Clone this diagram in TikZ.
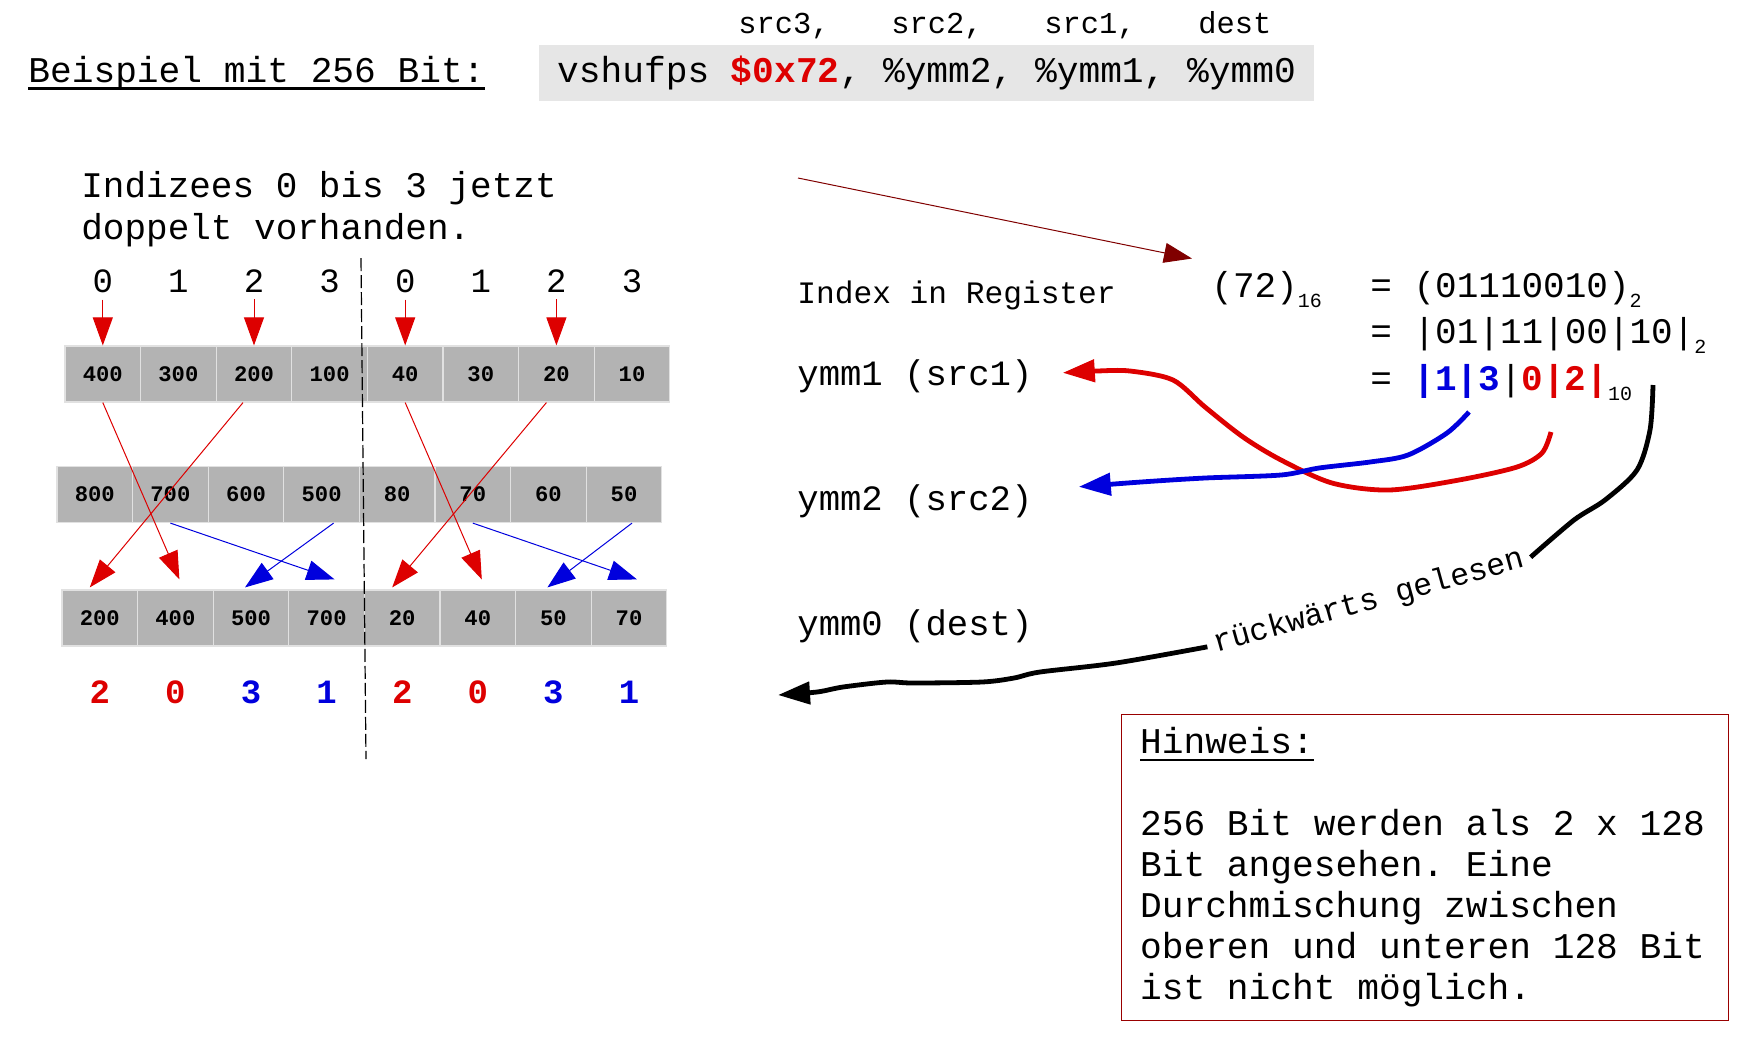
\documentclass[tikz,border=0pt]{standalone}
\usepackage{fontspec}
\setmainfont{Liberation Mono}[WordSpace={1,0,0}]
\usetikzlibrary{arrows.meta}

\definecolor{rot}{RGB}{221,0,0}
\definecolor{blau}{RGB}{0,0,221}
\definecolor{dunkelrot}{RGB}{128,0,0}
\definecolor{rahmenrot}{RGB}{153,0,0}
\definecolor{zellgrau}{RGB}{179,179,179}
\definecolor{zellrand}{RGB}{225,225,225}
\definecolor{codegrau}{RGB}{230,230,230}

\newcommand{\groesse}[1]{\fontsize{#1}{#1}\selectfont}
\newcommand{\tief}[1]{\raisebox{-5pt}{\groesse{10}#1}}
\newcommand{\strich}[1]{\sbox0{#1}\rlap{\rule[-3.8pt]{\wd0}{1.2pt}}\usebox0}

\begin{document}
\begin{tikzpicture}[x=0.5pt,y=-0.5pt,
    zelle/.style={draw=zellrand, fill=zellgrau, line width=0.6pt,
      minimum width=37.8pt, minimum height=28pt, inner sep=0pt,
      font=\groesse{11.1}\bfseries},
    duenn/.style={line width=0.5pt, -{Triangle[length=14pt,width=10pt]}},
    dick/.style={line width=2.4pt, -{Triangle[length=16pt,width=11pt]}},
    trenn/.style={line width=0.6pt, dash pattern=on 6.5pt off 2pt}]
  \useasboundingbox (0,0) rectangle (1757,1046);

  % Ueberschrift und Befehl mit den Operanden darueber.
  \node[anchor=base west, inner sep=0pt, font=\groesse{18.1}] (titel) at (28,82)
    {\strich{Beispiel mit 256 Bit:}};
  \node[fill=codegrau, inner sep=0pt, minimum width=387.5pt, minimum height=28pt,
    font=\groesse{18.1}] (befehl) at (926.5,73)
    {vshufps {\color{rot}\bfseries\$0x72}, \%ymm2, \%ymm1, \%ymm0};
  \foreach \t/\x [count=\i] in {{src3,}/738,{src2,}/891,{src1,}/1044,dest/1198}
    \node[anchor=base west, inner sep=0pt, font=\groesse{15.2}] (arg\i) at (\x,33) {\t};

  \node[anchor=base west, align=left, inner sep=0pt, font=\fontsize{18}{21}\selectfont]
    (indizes) at (81,239) {Indizees 0 bis 3 jetzt\\doppelt vorhanden.};

  % Die drei Register: src1 oben, src2 in der Mitte, dest unten.
  \foreach \w [count=\i] in {400,300,200,100,40,30,20,10}
    \node[zelle] (a\i) at (27.2+75.6*\i,374) {\w};
  \foreach \w [count=\i] in {800,700,600,500,80,70,60,50}
    \node[zelle] (b\i) at (19.2+75.6*\i,494.5) {\w};
  \foreach \w [count=\i] in {200,400,500,700,20,40,50,70}
    \node[zelle] (c\i) at (24.2+75.6*\i,618) {\w};

  % Indizes je 128-Bit-Haelfte.
  \foreach \d [count=\i] in {0,1,2,3,0,1,2,3}
    \node[font=\groesse{17}] (i\i) at (27.2+75.6*\i,281) {\d};
  \foreach \i in {1,3,5,7}
    \draw[duenn, rot] (i\i.south) -- (a\i.north);

  % Auswahl aus src1 (rot) und src2 (blau).
  \draw[duenn, rot] (a1.south) -- ([xshift=2pt,yshift=5pt]c2.north);
  \draw[duenn, rot] ([xshift=-5.5pt]a3.south) -- ([xshift=-5pt,yshift=1pt]c1.north);
  \draw[duenn, rot] (a5.south) -- ([xshift=2pt,yshift=5pt]c6.north);
  \draw[duenn, rot] ([xshift=-5pt]a7.south) -- ([xshift=-5pt,yshift=1pt]c5.north);
  \draw[duenn, blau] (b2.south) -- ([xshift=4pt,yshift=5pt]c4.north);
  \draw[duenn, blau] ([xshift=6pt]b4.south) -- ([xshift=-3pt,yshift=1pt]c3.north);
  \draw[duenn, blau] (b6.south) -- ([xshift=4pt,yshift=5pt]c8.north);
  \draw[duenn, blau] ([xshift=4pt]b8.south) -- ([xshift=-3pt,yshift=1pt]c7.north);

  % Verwendete Indizes unter dest.
  \foreach \d/\f [count=\i] in {2/rot,0/rot,3/blau,1/blau,2/rot,0/rot,3/blau,1/blau}
    \node[font=\groesse{17}\bfseries, text=\f] (e\i) at (24.2+75.6*\i,692) {\d};

  % Grenze zwischen oberen und unteren 128 Bit.
  \draw[trenn] (361,258) -- (366,759);

  % Zerlegung des Immediate-Werts.
  \coordinate (hexquelle) at (798,178);
  \node[anchor=base west, inner sep=0pt, font=\groesse{15.6}] (regindex) at (797,303)
    {Index in Register};
  \node[anchor=base west, inner sep=0pt, font=\groesse{18}] (hex) at (1211,297)
    {(72)\tief{16}};
  \draw[duenn, dunkelrot] (hexquelle) -- ([xshift=-9.5pt,yshift=6pt]hex.north west);
  \node[anchor=base west, inner sep=0pt, font=\groesse{18}] (bin) at (1370,297)
    {= (01110010)\tief{2}};
  \node[anchor=base west, inner sep=0pt, font=\groesse{18}] (bin2) at (1370,343)
    {= |01|11|00|10|\tief{2}};
  \node[anchor=base west, inner sep=0pt, font=\groesse{18}] (dez) at (1370,390)
    {= {\color{blau}\bfseries|1|3}|{\color{rot}\bfseries0|2|}\tief{10}};

  \node[anchor=base west, inner sep=0pt, font=\groesse{17.8}] (ymm1) at (797,385) {ymm1 (src1)};
  \node[anchor=base west, inner sep=0pt, font=\groesse{17.8}] (ymm2) at (797,510) {ymm2 (src2)};
  \node[anchor=base west, inner sep=0pt, font=\groesse{17.8}] (ymm0) at (797,635) {ymm0 (dest)};

  % Dicke Pfeile zu den Registern.
  \coordinate (rot0) at (1551,432);
  \draw[dick, rot] plot[smooth] coordinates {(rot0) (1542,453) (1517,467) (1459,480)
    (1389,490) (1332,483) (1281,460) (1243,437) (1205,407) (1173,380) (1130,371)
    (1097,371) ([xshift=15pt,yshift=1.5pt]ymm1.east)};
  \coordinate (blau0) at (1469,412);
  \draw[dick, blau] plot[smooth] coordinates {(blau0) (1447,433) (1408,455) (1370,462)
    (1319,468) (1281,475) (1205,478) (1141,482) ([xshift=23pt,yshift=7pt]ymm2.east)};

  \coordinate (sw0) at (1653,385);
  \coordinate (sw1) at (778,695);
  \node[rotate=15.5, font=\groesse{15.75}] (rueck) at (1369,602) {rückwärts gelesen};
  \draw[line width=2.4pt] plot[smooth] coordinates {(sw0) (1650,430) (1637,470)
    (1605,500) (1574,520) (rueck.east)};
  \draw[dick] plot[smooth] coordinates {(rueck.west) (1116,663) (1040,672) (1014,678)
    (982,682) (913,683) (887,682) (843,687) (817,692) (sw1)};

  % Hinweiskasten.
  \node[anchor=north west, draw=rahmenrot, line width=0.6pt, text width=285pt,
    align=left, inner xsep=9.25pt, inner ysep=6.5pt,
    font=\fontsize{18.1}{20.5}\selectfont] (hinweis) at (1121,714)
    {\frenchspacing\spaceskip=0pt\xspaceskip=0pt
     \strich{Hinweis:}\\[20.5pt]
     256 Bit werden als 2 x 128\\
     Bit angesehen. Eine\\
     Durchmischung zwischen\\
     oberen und unteren 128 Bit\\
     ist nicht möglich.};
\end{tikzpicture}
\end{document}
